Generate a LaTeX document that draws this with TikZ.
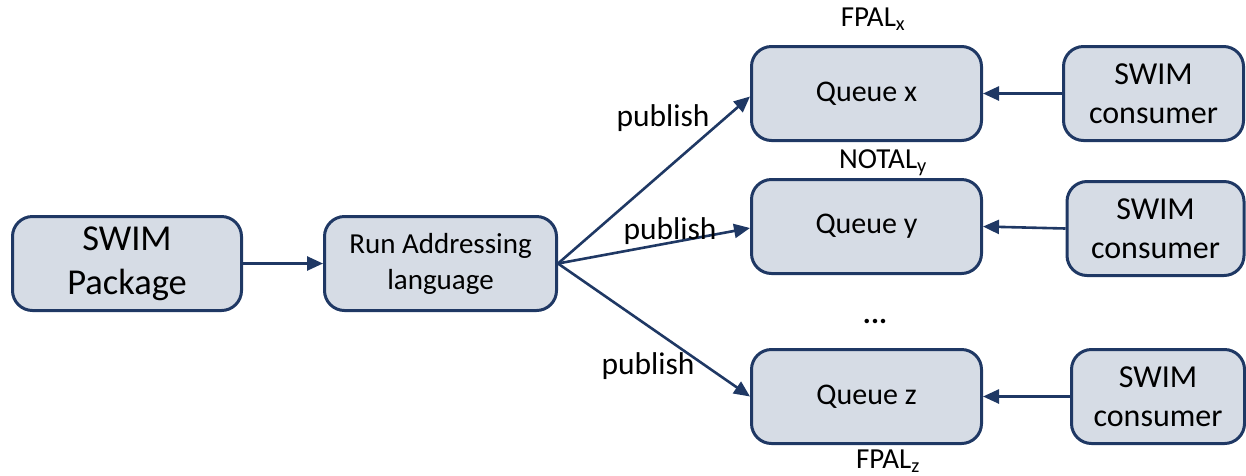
\documentclass[tikz,border=0pt]{standalone}
\usepackage{fontspec}
\setmainfont{Carlito}
\usetikzlibrary{arrows.meta,calc}
\definecolor{boxfill}{HTML}{D6DCE5}
\definecolor{navy}{HTML}{1F3864}
\tikzset{
  block/.style={draw=navy, fill=boxfill, line width=3pt, rounded corners=20pt,
    align=center, inner sep=0pt, minimum height=94pt},
  flow/.style={draw=navy, line width=2.6pt, -{Triangle[length=16pt,width=14pt]}},
  lbl/.style={inner sep=0pt, font=\fontsize{31.5}{36}\selectfont},
  tag/.style={inner sep=0pt, font=\fontsize{29}{34}\selectfont},
}
\begin{document}
\begin{tikzpicture}[x=1pt,y=-1pt]
\useasboundingbox (0,0) rectangle (1246,475);

% source and addressing step
\node[block, minimum width=229pt, font=\fontsize{36.5}{44}\selectfont] (pkg) at (127,263.5) {SWIM\\Package};
\node[block, minimum width=232pt, font=\fontsize{29}{36}\selectfont] (run) at (440.5,263.5) {Run Addressing\\language};

% queues
\node[block, minimum width=230pt, font=\fontsize{30}{34}\selectfont] (qx) at (866.5,93.5) {Queue x};
\node[block, minimum width=230pt, font=\fontsize{30}{34}\selectfont] (qy) at (866.5,226.5) {Queue y};
\node[block, minimum width=230pt, font=\fontsize{30}{34}\selectfont] (qz) at (866.5,396.5) {Queue z};

% consumers
\node[block, minimum width=180pt, font=\fontsize{32}{39}\selectfont] (cx) at (1153.5,93.5) {SWIM\\consumer};
\node[block, minimum width=177pt, font=\fontsize{32}{39}\selectfont] (cy) at (1155.5,228.5) {SWIM\\consumer};
\node[block, minimum width=173pt, font=\fontsize{32}{39}\selectfont] (cz) at (1158,396.5) {SWIM\\consumer};

% queue names
\node[tag] (tx) at (873,19) {FPAL\textsubscript{x}};
\node[tag] (ty) at (883,163) {NOTAL\textsubscript{y}};
\node[tag] (tz) at (888,461) {FPAL\textsubscript{z}};
\node[inner sep=0pt, font=\fontsize{30}{36}\selectfont\bfseries] (dots) at (875,321) {...};

% connectors
\draw[flow] (pkg.east) -- (run.west);
\draw[flow] (run.east) -- ($(qx.west)+(0,3)$);
\draw[flow] (run.east) -- ($(qy.west)+(0,1.5)$);
\draw[flow] (run.east) -- (qz.west);
\draw[flow] (cx.west) -- (qx.east);
\draw[flow] (cy.west) -- (qy.east);
\draw[flow] (cz.west) -- (qz.east);

% edge labels
\node[lbl] (p1) at (663,118) {publish};
\node[lbl] (p2) at (670,231) {publish};
\node[lbl] (p3) at (648,366) {publish};
\end{tikzpicture}
\end{document}
